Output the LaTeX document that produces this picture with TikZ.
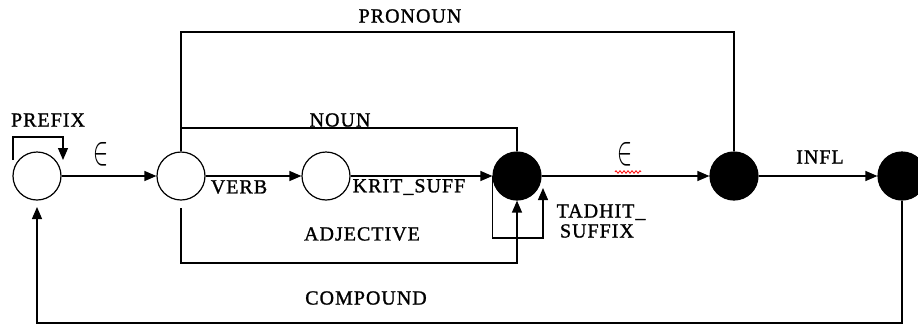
\documentclass[tikz,border=0pt]{standalone}
\usepackage{fontspec}
\usepackage{graphicx}
\setmainfont{Liberation Serif}[LetterSpace=5,FakeBold=1.2]
\usetikzlibrary{arrows.meta,decorations.pathmorphing}
\begin{document}
\begin{tikzpicture}[x=1pt,y=-1pt,
  line width=1.3pt,
  st/.style={circle,draw,line width=1.2pt,minimum size=48pt,inner sep=0pt},
  fin/.style={st,fill=black},
  arr/.style={-{Triangle[length=12pt,width=10pt]}},
  lbl/.style={font=\fontsize{20}{22}\selectfont,inner sep=0pt},
  eps/.style={inner sep=0pt}]
\useasboundingbox (0,0) rectangle (918,327);
% states
\node[st]  (q0) at (37,176) {};
\node[st]  (q1) at (181,176) {};
\node[st]  (q2) at (326,176) {};
\node[fin] (q3) at (517,176) {};
\node[fin] (q4) at (734,176) {};
\node[fin] (q5) at (902,176) {};
% main chain
\draw[arr] (q0) -- (q1);
\draw[arr] (q1) -- (q2);
\draw[arr] (q2) -- (q3);
\draw[arr] (q3) -- (q4);
\draw[arr] (q4) -- (q5);
% PRONOUN
\coordinate (pT) at (450,32);
\draw (q1.north) |- (pT) -| (q4.north);
% NOUN
\coordinate (nS) at (181,128);
\draw (nS) -| (q3.north);
% ADJECTIVE
\coordinate (aS) at (181,208);
\coordinate (aB) at (350,263);
\draw[arr] (aS) |- (aB) -| (q3.south);
% TADHIT_SUFFIX loop
\coordinate (tB) at (520,238);
\coordinate (tE) at (543,188);
\draw[arr] (q3.west) |- (tB) -| (tE);
% PREFIX loop
\coordinate (p1) at (13,160);
\coordinate (p2) at (38,137);
\coordinate (p3) at (63,160);
\draw[arr] (p1) |- (p2) -| (p3);
% COMPOUND
\coordinate (cB) at (450,323);
\coordinate (cE) at (37,207);
\draw[arr] (q5.south) |- (cB) -| (cE);
% labels
\node[lbl] (lPro) at (410,16) {PRONOUN};
\node[lbl] (lNoun) at (340,120) {NOUN};
\node[lbl] (lPre) at (48,120) {PREFIX};
\node[eps] (e1) at (101,154) {\resizebox{15pt}{22pt}{$\in$}};
\node[eps] (e2) at (625,154) {\resizebox{15pt}{22pt}{$\in$}};
\draw[red,line width=0.8pt,decorate,decoration={zigzag,segment length=4pt,amplitude=1.3pt}] (615,172) -- (641,172);
\node[lbl] (lVerb) at (239,187) {VERB};
\node[lbl] (lKrit) at (409,187) {KRIT\_SUFF};
\node[lbl] (lAdj) at (362,234) {ADJECTIVE};
\node[lbl,anchor=west,align=left] (lTad) at (556,221) {TADHIT\_\\[-2pt]\,SUFFIX};
\node[lbl] (lInfl) at (820,157) {INFL};
\node[lbl] (lComp) at (366,298) {COMPOUND};
\end{tikzpicture}
\end{document}
